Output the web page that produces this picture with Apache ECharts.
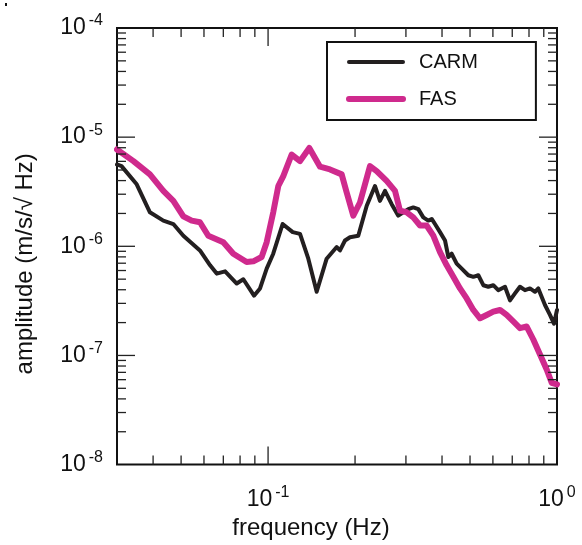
<!DOCTYPE html>
<html>
<head>
<meta charset="utf-8">
<script src="https://cdn.jsdelivr.net/npm/echarts@6/dist/echarts.min.js"></script>
<style>
  html, body { margin: 0; padding: 0; background: #fff; }
  #chart { width: 582px; height: 545px; }
</style>
</head>
<body>
<div id="chart"></div>
<script>
// frequency (Hz) / amplitude pairs
const carmFreq = [0.03, 0.0311, 0.0351, 0.0390, 0.0434, 0.0470, 0.0509, 0.0581, 0.0630, 0.0664,
  0.0710, 0.0779, 0.0821, 0.0894, 0.0938, 0.0989, 0.1042, 0.1123, 0.1217, 0.1290,
  0.1378, 0.1473, 0.1595, 0.1728, 0.1774, 0.1846, 0.1921, 0.2052, 0.2195, 0.2344,
  0.2439, 0.2539, 0.2678, 0.2823, 0.3057, 0.3181, 0.3311, 0.3445, 0.3585, 0.3684,
  0.3782, 0.3936, 0.4097, 0.4206, 0.4319, 0.4495, 0.4679, 0.4932, 0.5133, 0.5342,
  0.5559, 0.5783, 0.6019, 0.6261, 0.6607, 0.6876, 0.7154, 0.7443, 0.7748, 0.8062,
  0.8391, 0.8614, 0.9087, 0.9456, 0.9763, 1.0];
const carmAmp = [5.62e-6, 5.43e-6, 3.70e-6, 2.05e-6, 1.72e-6, 1.60e-6, 1.25e-6, 9.16e-7, 6.69e-7, 5.62e-7,
  5.90e-7, 4.56e-7, 4.99e-7, 3.53e-7, 4.11e-7, 6.24e-7, 8.55e-7, 1.60e-6, 1.35e-6, 1.30e-6,
  7.70e-7, 3.83e-7, 7.70e-7, 9.84e-7, 9.16e-7, 1.13e-6, 1.21e-6, 1.25e-6, 2.35e-6, 3.57e-6,
  2.61e-6, 3.22e-6, 2.43e-6, 1.91e-6, 2.19e-6, 2.27e-6, 2.19e-6, 1.84e-6, 1.72e-6, 1.78e-6,
  1.60e-6, 1.35e-6, 1.13e-6, 7.98e-7, 8.55e-7, 6.93e-7, 6.24e-7, 5.43e-7, 5.25e-7, 5.43e-7,
  4.40e-7, 4.26e-7, 4.40e-7, 3.96e-7, 4.26e-7, 3.20e-7, 3.70e-7, 4.26e-7, 3.96e-7, 4.11e-7,
  3.83e-7, 4.11e-7, 2.90e-7, 2.35e-7, 1.95e-7, 2.61e-7];

const fasFreq = [0.03, 0.0342, 0.0390, 0.0434, 0.0470, 0.0509, 0.0544, 0.0581, 0.0621, 0.0700,
  0.0758, 0.0843, 0.0889, 0.0950, 0.0989, 0.1042, 0.1085, 0.1129, 0.1207, 0.1290,
  0.1389, 0.1513, 0.1638, 0.1798, 0.1871, 0.1972, 0.2080, 0.2253, 0.2376, 0.2573,
  0.2750, 0.2862, 0.3018, 0.3181, 0.3357, 0.3540, 0.3731, 0.3936, 0.4152, 0.4377,
  0.4616, 0.4869, 0.5133, 0.5414, 0.5709, 0.6019, 0.6350, 0.6694, 0.7057, 0.7443,
  0.7854, 0.8279, 0.8733, 0.9210, 0.9585, 1.0];
const fasAmp = [7.70e-6, 6.03e-6, 4.56e-6, 3.22e-6, 2.61e-6, 1.88e-6, 1.72e-6, 1.66e-6, 1.25e-6, 1.09e-6,
  8.55e-7, 7.18e-7, 7.28e-7, 7.98e-7, 1.09e-6, 2.05e-6, 3.57e-6, 4.40e-6, 6.93e-6, 6.03e-6,
  7.97e-6, 5.36e-6, 5.06e-6, 4.56e-6, 3.11e-6, 1.91e-6, 2.52e-6, 5.43e-6, 4.89e-6, 3.97e-6,
  3.22e-6, 2.12e-6, 2.05e-6, 1.84e-6, 1.55e-6, 1.55e-6, 1.25e-6, 8.86e-7, 6.69e-7, 5.25e-7,
  4.11e-7, 3.33e-7, 2.61e-7, 2.19e-7, 2.35e-7, 2.52e-7, 2.61e-7, 2.35e-7, 2.05e-7, 1.78e-7,
  1.84e-7, 1.40e-7, 1.02e-7, 7.43e-8, 5.62e-8, 5.43e-8];

// axis ranges and tick positions
const xRange = [0.03, 1];
const yRange = [1e-8, 1e-4];
const xMajorTicks = [0.1];
const xMinorTicks = [0.04, 0.05, 0.06, 0.07, 0.08, 0.09, 0.2, 0.3, 0.4, 0.5, 0.6, 0.7, 0.8, 0.9];
const yMajorTicks = [1e-7, 1e-6, 1e-5];
const yDecades = [1e-8, 1e-7, 1e-6, 1e-5];
const minorSteps = [2, 3, 4, 5, 6, 7, 8, 9];

const FONT = "'Liberation Sans', Arial, Helvetica, sans-serif";
const INK = "#111";

const zip = (xs, ys) => xs.map((x, i) => [x, ys[i]]);

const xTickData = xMajorTicks.map(v => [v, yRange[0], 1])
  .concat(xMinorTicks.map(v => [v, yRange[0], 0]));
const yTickData = yMajorTicks.map(v => [xRange[0], v, 1]);
yDecades.forEach(d => minorSteps.forEach(m => yTickData.push([xRange[0], d * m, 0])));

function powLabel(v) {
  const l = Math.log10(v);
  const e = Math.round(l);
  if (Math.abs(l - e) > 1e-6) return "";
  return "{b|10}{s|" + e + "}";
}

const richPow = {
  b: { fontSize: 23, lineHeight: 30, fontFamily: FONT, color: INK },
  s: { fontSize: 16, lineHeight: 14, verticalAlign: "top", padding: [0, 0, 0, 3], fontFamily: FONT, color: INK }
};

const tickStyle = { stroke: "#222", lineWidth: 1.3 };

function renderXTicks(params, api) {
  const v = api.value(0);
  const len = api.value(2) ? 18 : 9;
  const b = api.coord([v, yRange[0]]);
  const t = api.coord([v, yRange[1]]);
  return {
    type: "group",
    children: [
      { type: "line", shape: { x1: b[0], y1: b[1], x2: b[0], y2: b[1] - len }, style: tickStyle },
      { type: "line", shape: { x1: t[0], y1: t[1], x2: t[0], y2: t[1] + len }, style: tickStyle }
    ]
  };
}

function renderYTicks(params, api) {
  const v = api.value(1);
  const len = api.value(2) ? 18 : 9;
  const l = api.coord([xRange[0], v]);
  const r = api.coord([xRange[1], v]);
  return {
    type: "group",
    children: [
      { type: "line", shape: { x1: l[0], y1: l[1], x2: l[0] + len, y2: l[1] }, style: tickStyle },
      { type: "line", shape: { x1: r[0], y1: r[1], x2: r[0] - len, y2: r[1] }, style: tickStyle }
    ]
  };
}

const chart = echarts.init(document.getElementById("chart"), null, { renderer: "canvas" });

chart.setOption({
  animation: false,
  textStyle: { fontFamily: FONT },
  grid: {
    left: 117, right: 25, top: 28, bottom: 78,
    show: true, borderColor: INK, borderWidth: 2, backgroundColor: "transparent"
  },
  graphic: [
    { type: "rect", shape: { x: 5, y: 3, width: 2, height: 3 }, style: { fill: INK } }
  ],
  legend: {
    data: [
      { name: "CARM", itemStyle: { opacity: 0 }, lineStyle: { width: 4 } },
      { name: "FAS", itemStyle: { opacity: 0 }, lineStyle: { width: 6 } }
    ],
    orient: "vertical",
    left: 327, top: 42,
    padding: [10, 58, 11, 19],
    borderColor: INK, borderWidth: 2,
    itemWidth: 54, itemHeight: 14, itemGap: 17,
    textStyle: { fontSize: 20, color: INK, fontFamily: FONT, padding: [0, 0, 0, 11], lineHeight: 20 }
  },
  xAxis: {
    type: "log", logBase: 10, min: xRange[0], max: xRange[1],
    name: "frequency (Hz)", nameLocation: "middle", nameGap: 47,
    nameTextStyle: { fontSize: 24, color: INK, fontFamily: FONT, padding: [0, 52, 0, 0] },
    axisLine: { show: false }, axisTick: { show: false }, splitLine: { show: false },
    axisLabel: { margin: 20, formatter: powLabel, rich: richPow }
  },
  yAxis: {
    type: "log", logBase: 10, min: yRange[0], max: yRange[1],
    name: "amplitude (m/s/\u221A Hz)", nameLocation: "middle", nameRotate: 90, nameGap: 80,
    nameTextStyle: { fontSize: 24, color: INK, fontFamily: FONT, padding: [0, 35, 0, 0] },
    axisLine: { show: false }, axisTick: { show: false }, splitLine: { show: false },
    axisLabel: { margin: 14, formatter: powLabel, rich: richPow }
  },
  series: [
    {
      name: "CARM", type: "line", data: zip(carmFreq, carmAmp),
      symbol: "none", smooth: false,
      lineStyle: { color: "#231f20", width: 4, join: "round", cap: "round" },
      itemStyle: { color: "#231f20" }, z: 3
    },
    {
      name: "FAS", type: "line", data: zip(fasFreq, fasAmp),
      symbol: "none", smooth: false,
      lineStyle: { color: "#cf2a8d", width: 6, join: "round", cap: "round" },
      itemStyle: { color: "#cf2a8d" }, z: 4
    },
    {
      name: "xticks", type: "custom", data: xTickData,
      encode: { x: 0, y: 1 }, renderItem: renderXTicks, silent: true, z: 5
    },
    {
      name: "yticks", type: "custom", data: yTickData,
      encode: { x: 0, y: 1 }, renderItem: renderYTicks, silent: true, z: 5
    }
  ]
});
</script>
</body>
</html>
